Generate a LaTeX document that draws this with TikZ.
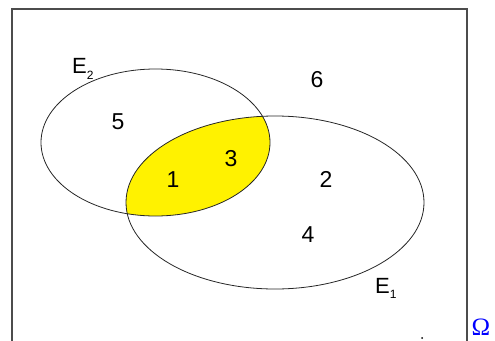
\documentclass[tikz,border=0pt]{standalone}
\usepackage{fontspec}
\setmainfont{Liberation Sans}
\newfontfamily\omegafont{Liberation Serif}
\begin{document}
\begin{tikzpicture}[x=1pt,y=-1pt,
  lbl/.style={inner sep=0pt,anchor=base,font=\fontsize{23}{27}\selectfont},
  setlbl/.style={inner sep=0pt,anchor=base west,font=\fontsize{22}{26}\selectfont},
  setline/.style={draw=black!85,line width=0.8pt},
  frame/.style={draw=black!70,line width=1.4pt}]
\useasboundingbox (0,0) rectangle (495,340);
\clip (0,0) rectangle (495,340);
% frame (open at the bottom)
\draw[frame] (12,345) -- (12,9) -- (467,9) -- (467,345);
% intersection
\begin{scope}
  \clip (275,202.5) ellipse [x radius=149, y radius=86.5];
  \fill[yellow] (155.5,142.5) ellipse [x radius=114.5, y radius=73.5];
\end{scope}
\draw[setline] (155.5,142.5) ellipse [x radius=114.5, y radius=73.5];
\draw[setline] (275,202.5) ellipse [x radius=149, y radius=86.5];
% labels
\node[setlbl] (e2) at (72,73) {E\raisebox{-6pt}{\fontsize{12}{12}\selectfont 2}};
\node[setlbl] (e1) at (375,293) {E\raisebox{-5pt}{\fontsize{12}{12}\selectfont 1}};
\node[lbl] (n5) at (118,129) {5};
\node[lbl] (n6) at (317,87) {6};
\node[lbl] (n3) at (231,166) {3};
\node[lbl] (n1) at (173,187) {1};
\node[lbl] (n2) at (326,187) {2};
\node[lbl] (n4) at (308,242) {4};
\node[inner sep=0pt,anchor=north,text=blue,font=\omegafont\fontsize{25}{28}\selectfont] (om) at (481,319) {Ω};
\fill[black] (422,338) circle (1pt);
\end{tikzpicture}
\end{document}
